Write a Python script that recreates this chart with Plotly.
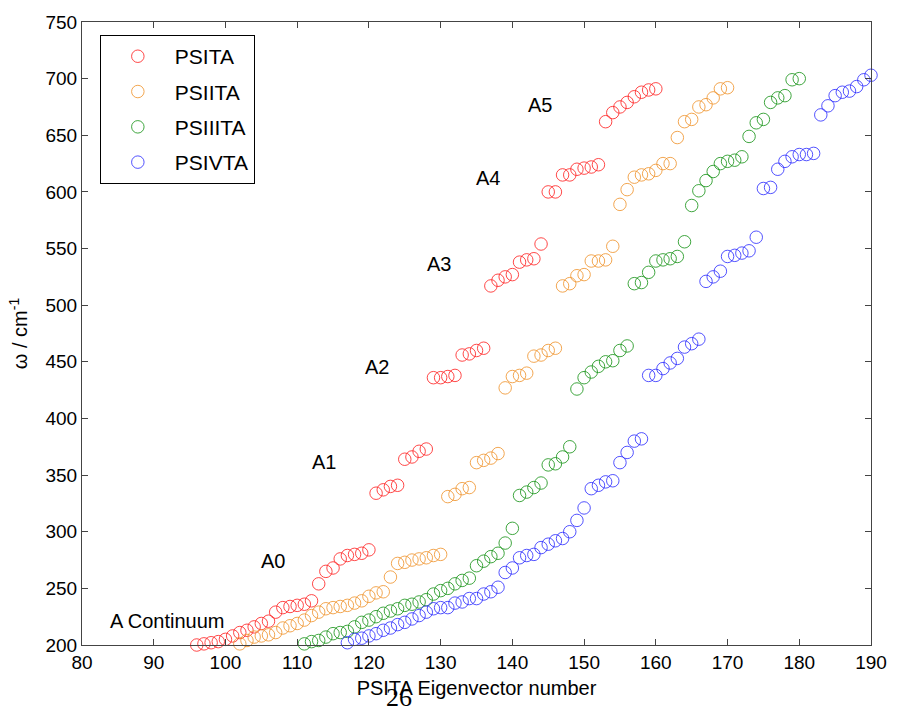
import plotly.graph_objects as go

# ---------------- data ----------------
psita_x = list(range(96, 161))
psita_y = [200, 201, 202, 203, 205, 208, 211, 213, 216, 219, 221, 229, 233, 234, 235, 236,
           239, 254, 265, 268, 276, 279, 280, 281, 284,
           334, 337, 340, 341, 364, 366, 371, 373,
           436, 436, 437, 438, 456, 457, 460, 462,
           517, 522, 525, 527, 538, 540, 541, 554,
           600, 600, 615, 615, 620, 621, 622, 624,
           662, 670, 675, 679, 684, 688, 690, 691]

psiita_x = list(range(102, 171))
psiita_y = [201, 204, 207, 208, 209, 211, 215, 217, 219, 222, 226, 229, 232, 233, 234, 235,
            237, 239, 243, 246, 247,
            260, 272, 273, 275, 276, 277, 279, 280,
            331, 333, 338, 339, 361, 363, 365, 369,
            427, 437, 438, 440, 455, 456, 460, 462,
            517, 519, 526, 527, 539, 539, 540, 552,
            589, 602, 613, 615, 616, 619, 625, 625,
            648, 662, 664, 675, 677, 683, 691, 692]

psiiita_x = list(range(111, 181))
psiiita_y = [201, 203, 204, 207, 210, 211, 212, 216, 220, 222, 225, 228, 230, 232, 235, 236,
             238, 240, 245, 248, 250, 254, 257, 259, 270, 274, 278, 281, 290, 303,
             332, 335, 339, 343, 359, 360, 366, 375,
             426, 436, 441, 446, 450, 451, 460, 464,
             519, 520, 529, 539, 540, 541, 543, 556,
             588, 601, 610, 618, 625, 627, 628, 631,
             649, 661, 664, 679, 683, 685, 699, 700]

psivta_x = list(range(117, 191))
psivta_y = [202, 205, 206, 208, 210, 213, 215, 218, 220, 223, 226, 229, 232, 233, 233, 237,
            238, 241, 241, 245, 247, 251, 264, 268, 277, 279, 280, 286, 289, 292, 294, 300,
            310, 321, 338, 341, 344, 345, 361, 370, 380, 382,
            438, 438, 444, 449, 453, 463, 466, 470,
            521, 525, 530, 543, 544, 546, 548, 560,
            603, 604, 620, 627, 631, 633, 633, 634,
            668, 676, 685, 688, 689, 693, 699, 703]

series_names = ["PSITA", "PSIITA", "PSIIITA", "PSIVTA"]
series_colors = ["rgba(255,40,40,0.85)", "rgba(240,150,50,0.85)",
                 "rgba(30,150,30,0.85)", "rgba(40,40,255,0.8)"]

band_labels = ["A Continuum", "A0", "A1", "A2", "A3", "A4", "A5"]
band_label_x = [91.9, 106.6, 113.7, 121.1, 129.8, 136.6, 143.9]
band_label_y = [221, 274, 362, 445, 536, 612, 677]

x_ticks = list(range(80, 191, 10))
y_ticks = list(range(200, 751, 50))

FONT = "Liberation Sans, Arial, Helvetica"

# ---------------- figure ----------------
fig = go.Figure()
xs = [psita_x, psiita_x, psiiita_x, psivta_x]
ys = [psita_y, psiita_y, psiiita_y, psivta_y]
for i, (name, col) in enumerate(zip(series_names, series_colors)):
    fig.add_trace(go.Scatter(
        x=xs[i], y=ys[i], mode="markers", name=name, legendgroup=name,
        marker=dict(symbol="circle-open", size=12.5, color=col, line=dict(width=1, color=col)),
        cliponaxis=False,
    ))

for t, xv, yv in zip(band_labels, band_label_x, band_label_y):
    fig.add_annotation(x=xv, y=yv, text=t, showarrow=False, xref="x", yref="y",
                       font=dict(size=20, color="black", family=FONT))

fig.add_annotation(x=(402 - 82) / 797, y=-(715 - 645) / 628, xref="paper", yref="paper",
                   text="26", showarrow=False, yanchor="bottom", xanchor="center",
                   font=dict(size=26, color="black", family="Liberation Serif, Times New Roman"))

axis_common = dict(showline=True, linecolor="#444", linewidth=1, mirror="ticks",
                   ticks="inside", ticklen=6, tickcolor="#444", showgrid=False, zeroline=False,
                   tickfont=dict(size=19, color="black", family=FONT))

fig.update_xaxes(range=[80, 190], tickvals=x_ticks,
                 title=dict(text="PSITA Eigenvector number", standoff=9,
                            font=dict(size=20, color="black", family=FONT)),
                 **axis_common)
fig.update_yaxes(range=[200, 750], tickvals=y_ticks,
                 title=dict(text="ω / cm<sup>-1</sup>", standoff=12,
                            font=dict(size=20, color="black", family=FONT)),
                 **axis_common)

fig.update_layout(
    width=899, height=715,
    margin=dict(l=82, r=20, t=17, b=70),
    paper_bgcolor="white", plot_bgcolor="white",
    showlegend=True,
    legend=dict(x=0.0226, y=0.979, xanchor="left", yanchor="top",
                bgcolor="white", bordercolor="black", borderwidth=1,
                font=dict(size=21, color="black", family=FONT),
                tracegroupgap=5, itemwidth=64),
)

fig.write_html("out.html")
